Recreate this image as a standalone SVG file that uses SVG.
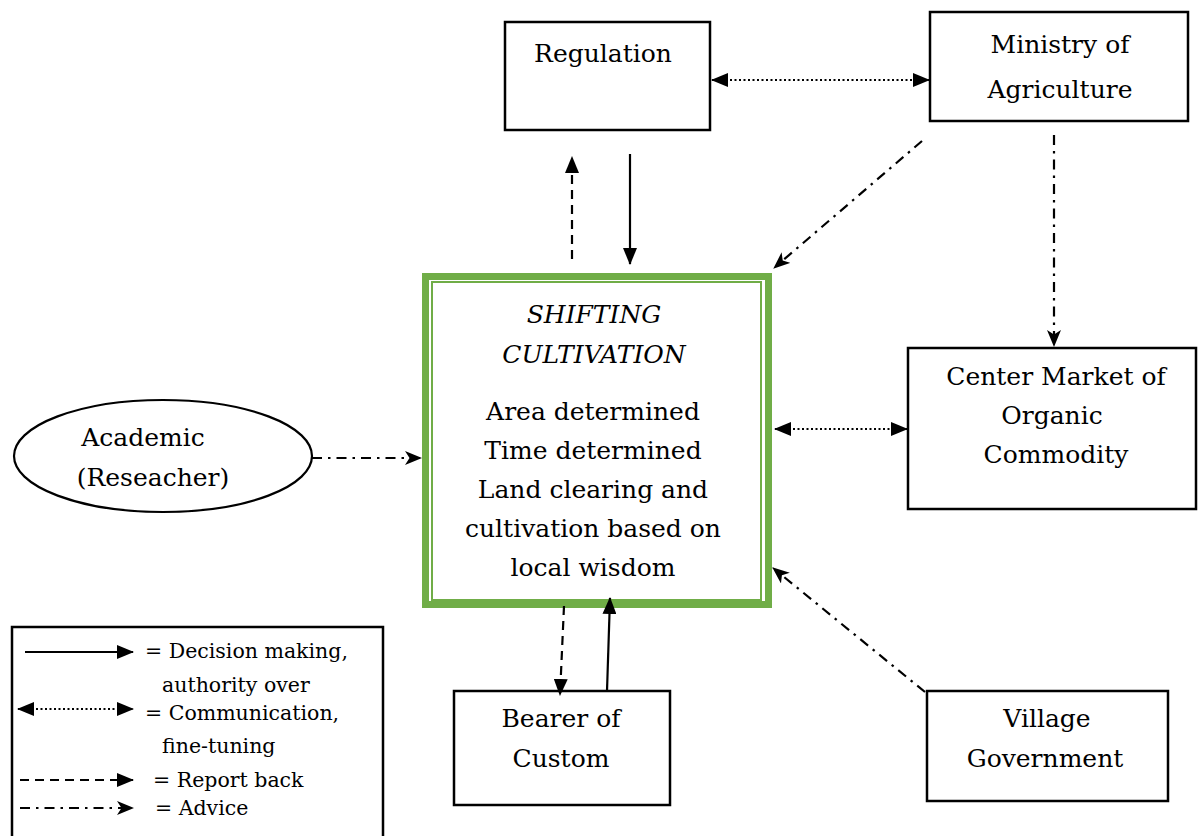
<svg xmlns="http://www.w3.org/2000/svg" width="1198" height="836" viewBox="0 0 1198 836">
<style>
  .box { fill: #fff; stroke: #000; stroke-width: 2.5; }
  .t { font-family: "DejaVu Serif", "Liberation Serif", serif; font-size: 25px; fill: #000; text-anchor: middle; }
  .it { font-style: italic; }
  .lg { font-family: "DejaVu Serif", "Liberation Serif", serif; font-size: 20.5px; fill: #000; }
  .c { fill: none; stroke: #000; stroke-width: 2.2; }
  .solid { marker-end: url(#tri); }
  .dot { stroke-dasharray: 2 2.5; marker-end: url(#tri); marker-start: url(#triS); }
  .dash { stroke-dasharray: 9 6; marker-end: url(#tri); }
  .dd { stroke-dasharray: 10 6 2.5 6; marker-end: url(#stealth); }
</style>
<defs>
  <marker id="tri" viewBox="0 0 17 14" refX="16" refY="7" markerWidth="17" markerHeight="14" markerUnits="userSpaceOnUse" orient="auto">
    <path d="M0,0 L17,7 L0,14 z" fill="#000"/>
  </marker>
  <marker id="triS" viewBox="0 0 17 14" refX="1" refY="7" markerWidth="17" markerHeight="14" markerUnits="userSpaceOnUse" orient="auto">
    <path d="M17,0 L0,7 L17,14 z" fill="#000"/>
  </marker>
  <marker id="stealth" viewBox="0 0 17 14" refX="16" refY="7" markerWidth="17" markerHeight="14" markerUnits="userSpaceOnUse" orient="auto">
    <path d="M0,0 L17,7 L0,14 L4.5,7 z" fill="#000"/>
  </marker>
</defs>
<rect width="1198" height="836" fill="#fff"/>

<g id="regulation">
  <rect class="box" x="505" y="22" width="205" height="108"/>
  <text class="t" x="603" y="62">Regulation</text>
</g>

<g id="ministry">
  <rect class="box" x="930" y="12" width="258" height="109"/>
  <text class="t" x="1060" y="53">Ministry of</text>
  <text class="t" x="1060" y="98">Agriculture</text>
</g>

<g id="shifting">
  <rect x="425.5" y="276.5" width="343" height="328" fill="#fff" stroke="#70AD47" stroke-width="7"/>
  <rect x="432" y="282" width="329" height="318" fill="none" stroke="#70AD47" stroke-width="2"/>
  <text class="t it" x="594" y="323">SHIFTING</text>
  <text class="t it" x="594" y="363">CULTIVATION</text>
  <text class="t" x="593" y="420">Area determined</text>
  <text class="t" x="593" y="459">Time determined</text>
  <text class="t" x="593" y="498">Land clearing and</text>
  <text class="t" x="593" y="537">cultivation based on</text>
  <text class="t" x="593" y="576">local wisdom</text>
</g>

<g id="academic">
  <ellipse cx="163" cy="456" rx="149" ry="56" fill="#fff" stroke="#000" stroke-width="2.2"/>
  <text class="t" x="143" y="446">Academic</text>
  <text class="t" x="153" y="486">(Reseacher)</text>
</g>

<g id="center-market">
  <rect class="box" x="908" y="348" width="288" height="161"/>
  <text class="t" x="1056" y="385">Center Market of</text>
  <text class="t" x="1052" y="424">Organic</text>
  <text class="t" x="1056" y="463">Commodity</text>
</g>

<g id="bearer">
  <rect class="box" x="454" y="691" width="216" height="114"/>
  <text class="t" x="561" y="727">Bearer of</text>
  <text class="t" x="561" y="767">Custom</text>
</g>

<g id="village">
  <rect class="box" x="927" y="691" width="241" height="110"/>
  <text class="t" x="1047" y="727">Village</text>
  <text class="t" x="1045" y="767">Government</text>
</g>

<g id="connectors">
  <line class="c dot" x1="712" y1="80" x2="929" y2="80"/>
  <line class="c dash" x1="572" y1="259" x2="572" y2="157"/>
  <line class="c solid" x1="630" y1="154" x2="630" y2="264"/>
  <line class="c dd" x1="922" y1="141" x2="774" y2="268"/>
  <line class="c dd" x1="1054" y1="135" x2="1054" y2="346"/>
  <line class="c dd" x1="312" y1="458" x2="421" y2="458"/>
  <line class="c dot" x1="775" y1="429" x2="907" y2="429"/>
  <line class="c dash" x1="564" y1="606" x2="560" y2="695"/>
  <line class="c solid" x1="607" y1="691" x2="610" y2="598"/>
  <line class="c dd" x1="925" y1="692" x2="773" y2="568"/>
</g>

<g id="legend">
  <rect x="12" y="627" width="371" height="220" fill="#fff" stroke="#000" stroke-width="2.5"/>
  <line class="c solid" x1="25" y1="652" x2="133" y2="652"/>
  <line class="c dot" x1="18" y1="709" x2="133" y2="709"/>
  <line class="c dash" x1="20" y1="780" x2="133" y2="780"/>
  <line class="c dd" x1="20" y1="808" x2="133" y2="808"/>
  <text class="lg" x="145" y="658">= Decision making,</text>
  <text class="lg" x="162" y="692">authority over</text>
  <text class="lg" x="145" y="720">= Communication,</text>
  <text class="lg" x="162" y="753">fine-tuning</text>
  <text class="lg" x="153" y="787">= Report back</text>
  <text class="lg" x="155" y="815">= Advice</text>
</g>
</svg>
